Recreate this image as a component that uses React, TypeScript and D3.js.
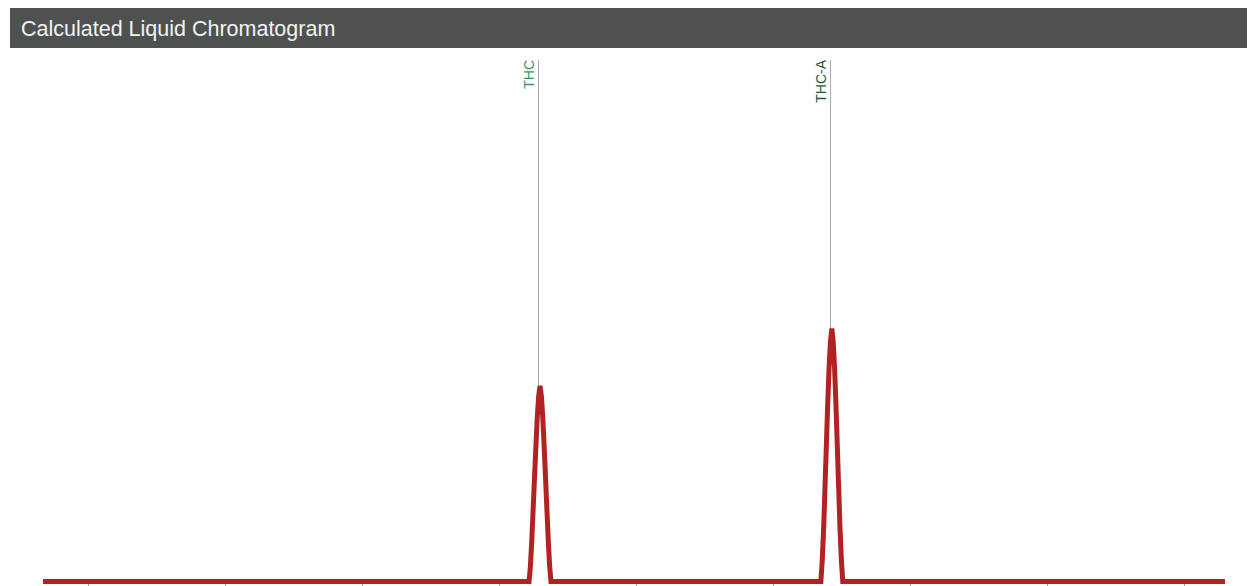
import React from "react";
import * as d3 from "d3";

const title = "Calculated Liquid Chromatogram";
const xTicks = [1, 2, 3, 4, 5, 6, 7, 8, 9];
const xDomain = [0.672, 9.3];
const yDomain = [0, 100];

const thcTimes = [4.22, 4.23, 4.24, 4.25, 4.26, 4.27, 4.28, 4.29, 4.3, 4.31, 4.32, 4.33, 4.34, 4.35, 4.36, 4.37, 4.38];
const thcValues = [0, 3, 8, 14, 20, 26, 31.5, 35.5, 37.5, 35.5, 31.5, 26, 20, 14, 8, 3, 0];
const thcaTimes = [6.35, 6.36, 6.37, 6.38, 6.39, 6.4, 6.41, 6.42, 6.43, 6.44, 6.45, 6.46, 6.47, 6.48, 6.49, 6.5, 6.51];
const thcaValues = [0, 4, 10, 18, 26, 34, 41, 46, 48.5, 46, 41, 34, 26, 18, 10, 4, 0];
const startTime = 0.672;
const endTime = 9.3;

const peakNames = ["THC", "THC-A"];
const peakTimes = [4.285, 6.415];
const peakHeights = [37.5, 48.5];
const peakColors = ["#3d9460", "#1f5a3c"];

export default function App() {
  const W = 1248;
  const H = 586;
  const x = d3.scaleLinear().domain(xDomain).range([43, 1225]);
  const y = d3.scaleLinear().domain(yDomain).range([581.5, 60]);
  const pts: [number, number][] = [
    [startTime, 0],
    ...thcTimes.map((t, i) => [t, thcValues[i]] as [number, number]),
    ...thcaTimes.map((t, i) => [t, thcaValues[i]] as [number, number]),
    [endTime, 0],
  ];
  const line = d3
    .line<[number, number]>()
    .x((d) => x(d[0]))
    .y((d) => y(d[1]));

  return (
    <div style={{ position: "absolute", left: 0, top: 0 }}>
      <svg width={W} height={H} style={{ display: "block" }}>
        <rect x={10} y={8} width={1237} height={40} fill="#4d5251" />
        <text
          x={21}
          y={36}
          fill="#f2f2f2"
          fontFamily="'Liberation Sans', Arial, sans-serif"
          fontSize={21.5}
        >
          {title}
        </text>
        {xTicks.map((t) => (
          <line
            key={t}
            x1={Math.round(x(t)) + 0.5}
            x2={Math.round(x(t)) + 0.5}
            y1={583}
            y2={592}
            stroke="#a0a0a0"
            strokeWidth={1}
          />
        ))}
        {peakNames.map((n, i) => (
          <g key={n}>
            <line
              x1={Math.round(x(peakTimes[i])) + 0.5}
              x2={Math.round(x(peakTimes[i])) + 0.5}
              y1={60}
              y2={y(peakHeights[i])}
              stroke="#aaaaaa"
              strokeWidth={1}
            />
            <text
              transform={`translate(${Math.round(x(peakTimes[i])) - 4},${60}) rotate(-90)`}
              textAnchor="end"
              fill={peakColors[i]}
              fontFamily="'Liberation Sans', Arial, sans-serif"
              fontSize={14}
            >
              {n}
            </text>
          </g>
        ))}
        <path d={line(pts) || ""} fill="none" stroke="#b22222" strokeWidth={5} />
      </svg>
    </div>
  );
}
